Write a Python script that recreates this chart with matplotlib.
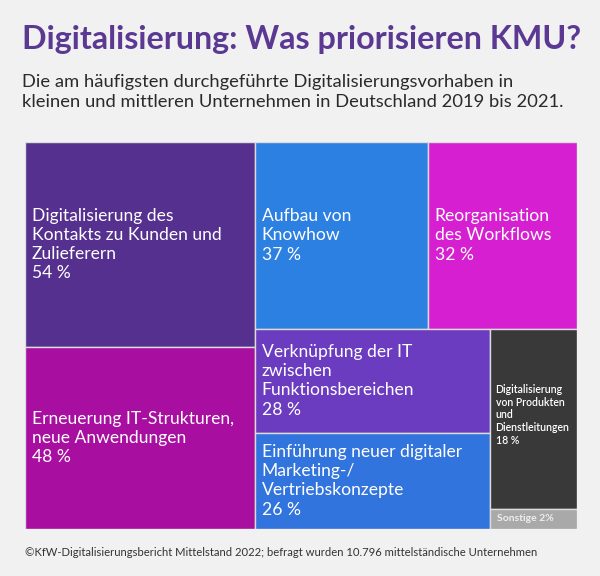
import matplotlib.pyplot as plt
from matplotlib.patches import Rectangle

# treemap values (percent)
labels = ["Digitalisierung des\nKontakts zu Kunden und\nZulieferern",
          "Erneuerung IT-Strukturen,\nneue Anwendungen",
          "Aufbau von\nKnowhow",
          "Reorganisation\ndes Workflows",
          "Verknüpfung der IT\nzwischen\nFunktionsbereichen",
          "Einführung neuer digitaler\nMarketing-/\nVertriebskonzepte",
          "Digitalisierung\nvon Produkten\nund\nDienstleitungen",
          "Sonstige"]
values = [54, 48, 37, 32, 28, 26, 18, 2]
colors = ["#55308f", "#a80fa0", "#2b80e2", "#d61fd0",
          "#6b3cbf", "#3274dd", "#393939", "#a9a9a9"]

title = "Digitalisierung: Was priorisieren KMU?"
subtitle = ("Die am häufigsten durchgeführte Digitalisierungsvorhaben in\n"
            "kleinen und mittleren Unternehmen in Deutschland 2019 bis 2021.")
source = ("©KfW-Digitalisierungsbericht Mittelstand 2022; "
          "befragt wurden 10.796 mittelständische Unternehmen")

FONT = "Lato"

fig = plt.figure(figsize=(6, 5.76), dpi=100)
fig.patch.set_facecolor("#f1f1f1")

# treemap axes in pixel region x 25..577, y 142..529
ax = fig.add_axes([25 / 600, (576 - 529) / 576, 552 / 600, 387 / 576])
ax.set_xlim(0, 1)
ax.set_ylim(1, 0)
ax.axis("off")

total = sum(values)

# simple hand layout: left column, then top row, then two stacked columns
rects = []
w1 = (values[0] + values[1]) / total
h0 = values[0] / (values[0] + values[1])
rects.append((0, 0, w1, h0))
rects.append((0, h0, w1, 1 - h0))

rest = total - values[0] - values[1]
wr = 1 - w1
ht = (values[2] + values[3]) / rest
wa = wr * values[2] / (values[2] + values[3])
rects.append((w1, 0, wa, ht))
rects.append((w1 + wa, 0, wr - wa, ht))

hb = 1 - ht
bot = values[4] + values[5] + values[6] + values[7]
wc = wr * (values[4] + values[5]) / bot
hv = hb * values[4] / (values[4] + values[5])
rects.append((w1, ht, wc, hv))
rects.append((w1, ht + hv, wc, hb - hv))
hd = hb * values[6] / (values[6] + values[7])
rects.append((w1 + wc, ht, wr - wc, hd))
rects.append((w1 + wc, ht + hd, wr - wc, hb - hd))

pad = 7 / 552
for i, (x, y, w, h) in enumerate(rects):
    ax.add_patch(Rectangle((x, y), w, h, facecolor=colors[i],
                           edgecolor="#dcdcdc", linewidth=1))
    if i == 7:
        ax.text(x + pad, y + h / 2, f"{labels[i]} {values[i]}%", color="#eeeeee",
                fontsize=7.5, fontweight="bold", family=FONT,
                ha="left", va="center")
    elif i == 6:
        ax.text(x + pad * 0.8, y + h / 2 - 0.01, f"{labels[i]}\n{values[i]} %",
                color="white", fontsize=7.6, fontweight="semibold", family=FONT,
                ha="left", va="center", linespacing=1.2)
    else:
        ax.text(x + pad, y + h / 2, f"{labels[i]}\n{values[i]} %",
                color="white", fontsize=12.6, family=FONT,
                ha="left", va="center", linespacing=1.25)

fig.text(22 / 600, 1 - 40 / 576, title, color="#5b3992", fontsize=23.2,
         fontweight="bold", family=FONT, ha="left", va="center")
fig.text(22 / 600, 1 - 92 / 576, subtitle, color="#2a2a2a", fontsize=13.2,
         family=FONT, ha="left", va="center", linespacing=1.35)
fig.text(25 / 600, 1 - 552 / 576, source, color="#333333", fontsize=8.1,
         family=FONT, ha="left", va="center")

fig.savefig("out.png", dpi=100, facecolor=fig.get_facecolor())
